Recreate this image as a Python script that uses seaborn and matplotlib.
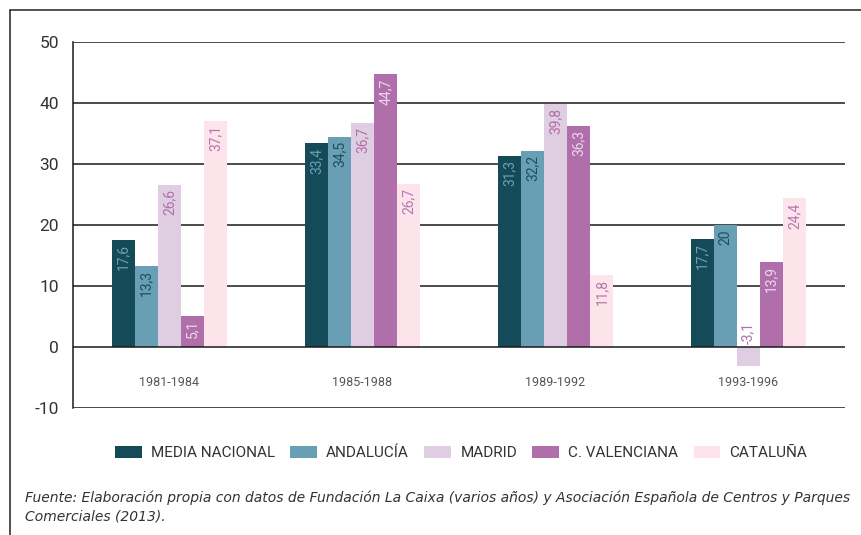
import matplotlib
matplotlib.use("Agg")
import matplotlib.pyplot as plt
import seaborn as sns
import pandas as pd
from matplotlib.lines import Line2D
from matplotlib.patches import Patch

periods = ["1981-1984", "1985-1988", "1989-1992", "1993-1996"]
regions = ["MEDIA NACIONAL", "ANDALUCÍA", "MADRID", "C. VALENCIANA", "CATALUÑA"]
media_nacional = [17.6, 33.4, 31.3, 17.7]
andalucia = [13.3, 34.5, 32.2, 20.0]
madrid = [26.6, 36.7, 39.8, -3.1]
c_valenciana = [5.1, 44.7, 36.3, 13.9]
cataluna = [37.1, 26.7, 11.8, 24.4]
label_texts = [
    ["17,6", "33,4", "31,3", "17,7"],
    ["13,3", "34,5", "32,2", "20"],
    ["26,6", "36,7", "39,8", "-3,1"],
    ["5,1", "44,7", "36,3", "13,9"],
    ["37,1", "26,7", "11,8", "24,4"],
]
yticks = [-10, 0, 10, 20, 30, 40, 50]
footnote = ("Fuente: Elaboración propia con datos de Fundación La Caixa (varios años) y Asociación Española de Centros y Parques\n"
            "Comerciales (2013).")

colors = ["#154b59", "#699fb5", "#dfcde2", "#b06fab", "#fce4ea"]
label_colors = ["#6a9fb5", "#1d4f5c", "#b06fab", "#ead8ea", "#b874b0"]

series = [media_nacional, andalucia, madrid, c_valenciana, cataluna]
rows = []
for r, vals in zip(regions, series):
    for p, v in zip(periods, vals):
        rows.append({"period": p, "region": r, "value": v})
df = pd.DataFrame(rows)

sns.set_theme(style="white")
plt.rcParams["font.family"] = ["Roboto", "DejaVu Sans"]

fig = plt.figure(figsize=(8.62, 5.35), dpi=100)
ax = fig.add_axes([73 / 862, 1 - 408 / 535, (845 - 73) / 862, (408 - 42) / 535])

sns.barplot(data=df, x="period", y="value", hue="region", order=periods,
            hue_order=regions, palette=colors, saturation=1, width=0.6,
            ax=ax, legend=False, linewidth=0, edgecolor="none", zorder=3)

ax.set_ylim(-10, 50)
ax.set_xlim(-0.5, 3.5)
ax.set_yticks(yticks)
ax.set_yticklabels([str(t) for t in yticks], fontsize=12.5, color="#333333")
ax.tick_params(axis="y", length=0, pad=10)
ax.set_xticks([])
ax.set_xlabel("")
ax.set_ylabel("")
for t in yticks:
    ax.axhline(t, color="#1a1a1a", lw=1.1, zorder=1 if t != 0 else 4)
for s in ["top", "right", "bottom"]:
    ax.spines[s].set_visible(False)
ax.spines["left"].set_color("#1a1a1a")
ax.spines["left"].set_linewidth(1.1)

# value labels
for i, cont in enumerate(ax.containers):
    for j, bar in enumerate(cont):
        v = series[i][j]
        xc = bar.get_x() + bar.get_width() / 2
        if v >= 0:
            ax.annotate(label_texts[i][j], (xc, v), xytext=(0, -3), textcoords="offset points",
                        rotation=90, ha="center", va="top", fontsize=10,
                        color=label_colors[i], zorder=5)
        else:
            ax.annotate(label_texts[i][j], (xc, 0), xytext=(0, 2), textcoords="offset points",
                        rotation=90, ha="center", va="bottom", fontsize=10,
                        color=label_colors[i], zorder=5)

# category labels inside axis
for k, p in enumerate(periods):
    ax.text(k, -5.9, p, ha="center", va="center", fontsize=9, color="#555555")

# legend
handles = [Patch(facecolor=c, edgecolor="none", label=r) for c, r in zip(colors, regions)]
fig.legend(handles=handles, loc="center", bbox_to_anchor=(0.535, 1 - 453 / 535), ncol=5,
           frameon=False, fontsize=11, handlelength=1.75, handleheight=0.85,
           columnspacing=1.0, handletextpad=0.6, labelcolor="#333333")

# footnote
fig.text(25 / 862, 1 - 507 / 535, footnote, ha="left", va="center", fontsize=10,
         style="italic", color="#333333", linespacing=1.4, family="DejaVu Sans")

# outer frame
fig.add_artist(Line2D([10 / 862, 10 / 862], [0, 1 - 10 / 535], color="#333333", lw=1.2,
                      transform=fig.transFigure))
fig.add_artist(Line2D([10 / 862, 1], [1 - 10 / 535, 1 - 10 / 535], color="#333333", lw=1.2,
                      transform=fig.transFigure))

fig.savefig("out.png", dpi=100)
